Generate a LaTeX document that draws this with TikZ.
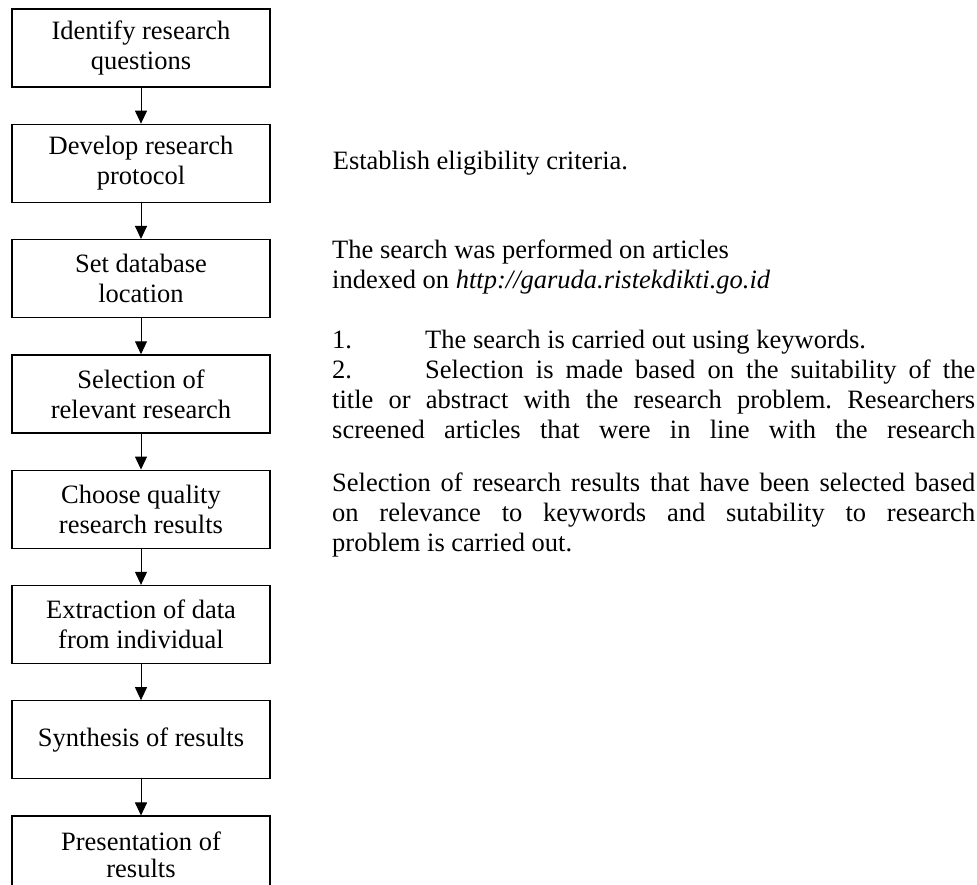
\documentclass[tikz,border=0pt]{standalone}
\usepackage{fontspec}
\setmainfont{Liberation Serif}
\usetikzlibrary{positioning, arrows.meta}
\newcommand{\stepFont}{\fontsize{26.5pt}{30pt}\selectfont\frenchspacing}

\begin{document}
\begin{tikzpicture}[
            x=1pt, y=-1pt,
            node distance=36pt and 62pt,
            flowBox/.style={rectangle, draw=black, line width=1.3pt,
            minimum width=258pt, minimum height=78pt, align=center, font=\stepFont},
            noteText/.style={anchor=north west, inner sep=0pt, text width=643pt,
            align=justify, font=\stepFont},
            arrow/.style={line width=1pt, -{Triangle[width=12pt,length=13pt]}},
        ]
        \useasboundingbox (0,0) rectangle (977,884);
        \node[flowBox] (questions) at (141,48) {Identify research\\questions};
        \node[flowBox, below=of questions] (protocol)  {Develop research\\protocol};
        \node[flowBox, below=of protocol]  (database)  {Set database\\location};
        \node[flowBox, below=of database]  (relevant)  {Selection of\\relevant research};
        \node[flowBox, below=of relevant]  (quality)   {Choose quality\\research results};
        \node[flowBox, below=of quality]   (extract)   {Extraction of data\\from individual};
        \node[flowBox, below=of extract]   (synthesis) {Synthesis of results};
        \node[flowBox, below=of synthesis] (present)   {Presentation of\\[-3pt]results};
        % notes beside the steps
        \node[noteText, right=of protocol] (criteriaNote) {Establish eligibility criteria.};
        \node[noteText] (searchNote) at (332,240) {The search was performed on articles\\
            indexed on \textit{http://garuda.ristekdikti.go.id}};
        \node[noteText] (keywordNote) at (332,330) {\noindent\makebox[93pt][l]{1.}The search is carried out using keywords.\par
            \noindent\makebox[93pt][l]{2.}Selection is made based on the suitability of the\linebreak
            title or abstract with the research problem. Researchers\linebreak
            \makebox[643pt][s]{screened articles that were in line with the research}};
        \node[noteText] (resultNote) at (332,473) {\noindent Selection of research results that have been selected based\linebreak
            on relevance to keywords and sutability to research\linebreak
            problem is carried out.};
        \draw[arrow] (questions) -- (protocol);
        \draw[arrow] (protocol) -- (database);
        \draw[arrow] (database) -- (relevant);
        \draw[arrow] (relevant) -- (quality);
        \draw[arrow] (quality) -- (extract);
        \draw[arrow] (extract) -- (synthesis);
        \draw[arrow] (synthesis) -- (present);
    \end{tikzpicture}
\end{document}
